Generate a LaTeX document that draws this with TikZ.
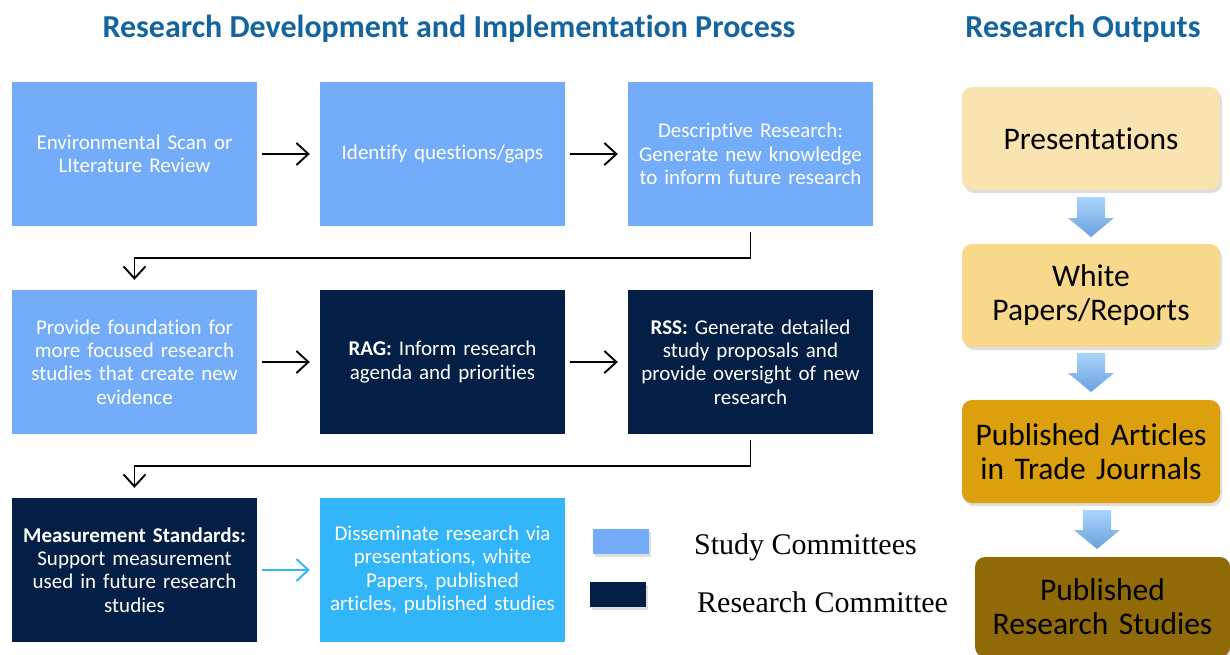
\documentclass[tikz,border=0pt]{standalone}
\usepackage{fontspec}
\setmainfont[Ligatures={NoCommon}]{Carlito}
\newfontfamily\legendfont{Liberation Serif}
\usetikzlibrary{arrows.meta,shadows}
\definecolor{titleblue}{RGB}{20,100,160}
\definecolor{lightblue}{RGB}{115,172,248}
\definecolor{navy}{RGB}{3,31,69}
\definecolor{brightblue}{RGB}{51,181,250}
\definecolor{outA}{RGB}{249,227,176}
\definecolor{outB}{RGB}{248,216,138}
\definecolor{outC}{RGB}{220,159,13}
\definecolor{outD}{RGB}{143,106,7}
\definecolor{arrtop}{RGB}{170,214,251}
\definecolor{arrbot}{RGB}{105,160,222}
\tikzset{
  procbox/.style={minimum width=245pt, minimum height=144pt, inner sep=0pt,
    text width=240pt, align=center, text=white,
    font=\fontsize{21}{23.3}\selectfont},
  lbox/.style={procbox, fill=lightblue},
  dbox/.style={procbox, fill=navy},
  bbox/.style={procbox, fill=brightblue},
  outbox/.style={rounded corners=10pt, minimum width=258pt, minimum height=103pt,
    inner sep=0pt, text width=254pt, align=center, text=black,
    font=\fontsize{31.5}{34}\selectfont,
    drop shadow={opacity=0.25, shadow xshift=2pt, shadow yshift=-3pt}},
  legbox/.style={minimum width=56pt, minimum height=25pt, inner sep=0pt,
    drop shadow={opacity=0.25, shadow xshift=2pt, shadow yshift=-3pt}},
  legtext/.style={anchor=west, inner sep=0pt, font=\legendfont\fontsize{30}{34}\selectfont},
  titletext/.style={text=titleblue, font=\bfseries\fontsize{32}{36}\selectfont},
  flowarrow/.style={line width=1.9pt, -{Straight Barb[length=12pt, width=22pt, line width=1.9pt]}},
  blockarrow/.style={shading=axis, top color=arrtop, bottom color=arrbot, draw=none}
}
\newcommand{\blockarr}[4]{%
  \path[blockarrow] (#1-14,#2) -- (#1+14,#2) -- (#1+14,#3) -- (#1+23,#3) --
    (#1,#4) -- (#1-23,#3) -- (#1-14,#3) -- cycle;}
\begin{document}
\begin{tikzpicture}[x=1pt,y=-1pt]
\clip (0,0) rectangle (1230,654);
\fill[white] (0,0) rectangle (1230,654);

% titles
\node[titletext] (t1) at (449,28.5) {Research Development and Implementation Process};
\node[titletext] (t2) at (1083,28.5) {Research Outputs};

% row 1
\node[lbox] (b1) at (134.5,154) {Environmental Scan or\\LIterature Review};
\node[lbox] (b2) at (442.5,154) {Identify questions/gaps};
\node[lbox] (b3) at (750.5,154) {Descriptive Research:\\Generate new knowledge\\to inform future research};
% row 2
\node[lbox] (b4) at (134.5,362) {Provide foundation for\\more focused research\\studies that create new\\evidence};
\node[dbox] (b5) at (442.5,362) {\textbf{RAG:} Inform research\\agenda and priorities};
\node[dbox] (b6) at (750.5,362) {\textbf{RSS:} Generate detailed\\study proposals and\\provide oversight of new\\research};
% row 3
\node[dbox] (b7) at (134.5,570) {\textbf{Measurement Standards:}\\Support measurement\\used in future research\\studies};
\node[bbox] (b8) at (442.5,570) {Disseminate research via\\presentations, white\\Papers, published\\articles, published studies};

% arrows
\draw[flowarrow, shorten <=5pt, shorten >=10pt] (b1.east) -- (b2.west);
\draw[flowarrow, shorten <=5pt, shorten >=10pt] (b2.east) -- (b3.west);
\draw[flowarrow, shorten <=5pt, shorten >=10pt] (b4.east) -- (b5.west);
\draw[flowarrow, shorten <=5pt, shorten >=10pt] (b5.east) -- (b6.west);
\draw[flowarrow, shorten <=6pt, shorten >=10pt] (b3.south) -- ++(0,32) -| (b4.north);
\draw[flowarrow, shorten <=6pt, shorten >=10pt] (b6.south) -- ++(0,32) -| (b7.north);
\draw[flowarrow, draw=brightblue, line width=1.4pt, shorten <=5pt, shorten >=10pt] (b7.east) -- (b8.west);

% legend
\node[legbox, fill=lightblue] (l1) at (621,541) {};
\node[legbox, fill=navy] (l2) at (617.5,594) {};
\node[legtext] (lt1) at (694,547.5) {Study Committees};
\node[legtext] (lt2) at (697,602) {Research Committee};

% outputs
\node[outbox, fill=outA] (o1) at (1091,138.5) {Presentations};
\node[outbox, fill=outB] (o2) at (1091,295.5) {White\\Papers/Reports};
\node[outbox, fill=outC] (o3) at (1091,451.5) {Published Articles\\in Trade Journals};
\node[outbox, fill=outD, minimum width=255pt, minimum height=100pt] (o4) at (1102.5,607) {Published\\Research Studies};

\blockarr{1091}{197}{218}{237}
\blockarr{1091}{353}{373}{392}
\blockarr{1097}{510}{530}{549}
\end{tikzpicture}
\end{document}
